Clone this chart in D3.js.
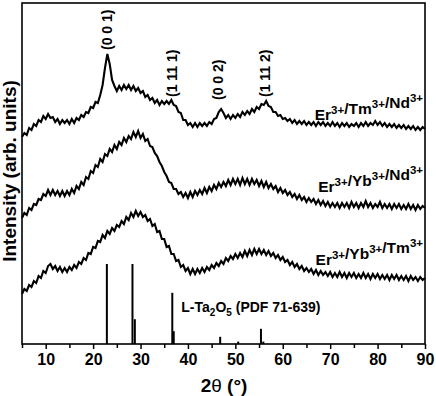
<!DOCTYPE html>
<html>
<head>
<meta charset="utf-8">
<script src="https://cdn.jsdelivr.net/npm/d3@7"></script>
<style>
  body { margin: 0; background: #fff; }
  text { font-family: Arial, "Liberation Sans", sans-serif; font-weight: bold; fill: #000; }
</style>
</head>
<body>
<svg width="436" height="396"></svg>
<script>
// 2theta sampling (deg)
const angles = [5,5.5,6,6.5,7,7.5,8,8.5,9,9.5,10,10.5,11,11.5,12,12.5,13,13.5,14,14.5,15,15.5,16,16.5,17,17.5,18,18.5,19,19.5,
  20,20.5,21,21.5,22,22.5,23,23.5,24,24.5,25,25.5,26,26.5,27,27.5,28,28.5,29,29.5,30,30.5,31,31.5,32,32.5,33,33.5,34,34.5,
  35,35.5,36,36.5,37,37.5,38,38.5,39,39.5,40,40.5,41,41.5,42,42.5,43,43.5,44,44.5,45,45.5,46,46.5,47,47.5,48,48.5,49,49.5,
  50,50.5,51,51.5,52,52.5,53,53.5,54,54.5,55,55.5,56,56.5,57,57.5,58,58.5,59,59.5,60,60.5,61,61.5,62,62.5,63,63.5,64,64.5,
  65,65.5,66,66.5,67,67.5,68,68.5,69,69.5,70,70.5,71,71.5,72,72.5,73,73.5,74,74.5,75,75.5,76,76.5,77,77.5,78,78.5,79,79.5,
  80,80.5,81,81.5,82,82.5,83,83.5,84,84.5,85,85.5,86,86.5,87,87.5,88,88.5,89,89.5,90];

// intensities (arb. units, already offset for stacking)
const erTmNd = [207,211,209,216,214,220,218,224,222,228,225,230,226,227,222,225,220,224,221,224,220,225,221,226,224,229,227,232,231,237,
  236,242,241,249,259,276,290,280,264,258,253,258,254,259,255,259,254,258,253,256,251,253,247,249,244,246,241,244,239,243,
  240,243,240,244,239,238,232,231,224,224,219,221,217,221,217,221,218,221,218,222,220,225,226,232,235,231,226,229,225,229,
  226,230,227,232,229,233,230,235,232,237,235,240,239,243,238,237,232,232,228,229,225,226,223,225,221,224,220,223,220,223,
  219,222,219,222,218,222,219,222,218,221,218,222,218,221,217,221,218,221,217,220,218,221,217,221,218,222,218,221,219,223,
  219,222,218,221,217,220,217,220,216,219,216,219,215,218,215,218,214,217,214,217,215];

const erYbNd = [126,131,129,136,134,140,139,145,144,150,148,154,149,154,149,153,148,153,148,153,149,155,151,158,155,162,159,167,165,173,
  171,179,177,185,182,190,188,195,192,199,195,202,199,206,202,208,205,212,207,213,206,210,203,205,198,197,191,188,182,178,
  172,168,162,161,155,155,150,152,147,151,146,152,147,153,149,154,150,156,151,157,153,159,155,161,157,162,158,164,159,165,
  160,165,159,166,160,165,159,165,160,164,158,163,157,162,156,160,155,158,152,156,151,154,149,152,147,150,145,149,144,147,
  142,146,142,145,140,144,139,143,138,142,137,141,137,141,136,141,137,141,136,142,137,141,136,141,137,143,137,141,136,140,
  137,142,136,140,136,140,135,140,136,140,135,139,135,140,135,139,134,139,135,138,136];

const erYbTm = [50,55,53,59,57,63,61,68,66,73,71,78,80,75,78,73,77,72,76,72,77,74,79,76,82,80,86,84,91,90,
  97,96,103,102,109,106,113,110,116,113,119,117,123,120,127,124,131,127,133,128,132,127,129,123,125,118,120,112,113,105,
  105,97,98,90,90,83,84,77,79,73,76,70,75,70,75,71,76,72,77,74,79,76,81,78,83,80,86,83,88,85,
  90,86,91,87,93,88,94,89,95,90,95,90,94,89,93,88,91,86,89,84,87,82,84,79,82,77,80,75,78,73,
  76,72,75,70,74,69,73,69,72,68,72,67,71,67,72,67,71,66,71,67,71,66,70,66,71,66,70,65,70,66,
  70,65,69,65,69,64,69,65,69,64,68,64,68,63,68,64,67,63,67,64,66];

const seriesNames = [
  { base: ['Er', '/Tm', '/Nd'], y: 224 },
  { base: ['Er', '/Yb', '/Nd'], y: 152 },
  { base: ['Er', '/Yb', '/Tm'], y: 79 }
];

// reference pattern L-Ta2O5 (PDF 71-639)
const refAngles = [22.9, 28.3, 28.8, 36.7, 37.0, 46.8, 50.6, 55.4, 55.9];
const refIntensity = [100, 100, 31, 64, 16, 9, 3, 19, 3];

// Miller indices
const hklLabels = ['(0 0 1)', '(1 11 1)', '(0 0 2)', '(1 11 2)'];
const hklAngles = [23.0, 36.7, 46.4, 56.3];
const hklBottom = [50, 97, 100, 97];

const xTicks = [10, 20, 30, 40, 50, 60, 70, 80, 90];

const svg = d3.select('svg');
const width = +svg.attr('width');
const height = +svg.attr('height');
const margin = { top: 3, right: 11, bottom: 52, left: 22 };
const innerW = width - margin.left - margin.right;
const innerH = height - margin.top - margin.bottom;

const g = svg.append('g').attr('transform', `translate(${margin.left},${margin.top})`);

const x = d3.scaleLinear().domain([5, 90]).range([0, innerW]);
const y = d3.scaleLinear().domain([0, innerH]).range([innerH, 0]);
const yRef = d3.scaleLinear().domain([0, 100]).range([innerH, innerH - 80]);

const line = d3.line()
    .x((d, i) => x(angles[i]))
    .y(d => y(d));

// curves
[erTmNd, erYbNd, erYbTm].forEach(s => {
  g.append('path')
    .attr('d', line(s))
    .attr('fill', 'none')
    .attr('stroke', '#000')
    .attr('stroke-width', 2.1)
    .attr('stroke-linejoin', 'miter');
});

// reference sticks
g.selectAll('line.ref').data(refAngles)
  .enter().append('line')
    .attr('class', 'ref')
    .attr('x1', d => x(d)).attr('x2', d => x(d))
    .attr('y1', innerH)
    .attr('y2', (d, i) => yRef(refIntensity[i]))
    .attr('stroke', '#000')
    .attr('stroke-width', 2);

// frame
g.append('rect')
  .attr('width', innerW).attr('height', innerH)
  .attr('fill', 'none').attr('stroke', '#000').attr('stroke-width', 1.6);

// x axis
const xAxis = g.append('g')
  .attr('transform', `translate(0,${innerH})`)
  .call(d3.axisBottom(x).tickValues(xTicks).tickSize(5).tickPadding(5));
xAxis.select('.domain').remove();
xAxis.selectAll('line').attr('stroke-width', 1.5);
xAxis.selectAll('text')
  .style('font-size', '16px').style('font-weight', 'bold')
  .style('font-family', 'Arial, "Liberation Sans", sans-serif');

g.append('g')
  .attr('transform', `translate(0,${innerH})`)
  .call(d3.axisBottom(x).tickValues([5, 15, 25, 35, 45, 55, 65, 75, 85]).tickSize(4).tickFormat(''))
  .call(a => a.select('.domain').remove())
  .selectAll('line').attr('stroke-width', 1.5);

// axis titles
const xt = svg.append('text')
  .attr('x', 224).attr('y', 392)
  .attr('text-anchor', 'middle')
  .style('font-size', '19px');
xt.append('tspan').text('2');
xt.append('tspan').style('font-weight', 'normal').text('θ');
xt.append('tspan').text(' (°)');

svg.append('text')
  .attr('transform', 'translate(16,171) rotate(-90)')
  .attr('text-anchor', 'middle')
  .style('font-size', '19px')
  .text('Intensity (arb. units)');

// peak labels
g.selectAll('text.hkl').data(hklLabels)
  .enter().append('text')
    .attr('class', 'hkl')
    .attr('transform', (d, i) => `translate(${x(hklAngles[i])},${hklBottom[i] - margin.top}) rotate(-90)`)
    .attr('dy', '0.35em')
    .style('font-size', '14px')
    .text(d => d);

// series labels
seriesNames.forEach(s => {
  const t = g.append('text')
    .attr('x', innerW - 2)
    .attr('y', y(s.y))
    .attr('text-anchor', 'end')
    .style('font-size', '15.5px');
  s.base.forEach(b => {
    t.append('tspan').attr('dy', 0).text(b);
    t.append('tspan').attr('dy', -6).style('font-size', '11.5px').text('3+');
    t.append('tspan').attr('dy', 6).text('');
  });
});

// reference label
const rl = g.append('text')
  .attr('x', x(38.6)).attr('y', 309)
  .style('font-size', '14px');
rl.append('tspan').text('L-Ta');
rl.append('tspan').attr('dy', 4).style('font-size', '10px').text('2');
rl.append('tspan').attr('dy', -4).text('O');
rl.append('tspan').attr('dy', 4).style('font-size', '10px').text('5');
rl.append('tspan').attr('dy', -4).text(' (PDF 71-639)');
</script>
</body>
</html>
